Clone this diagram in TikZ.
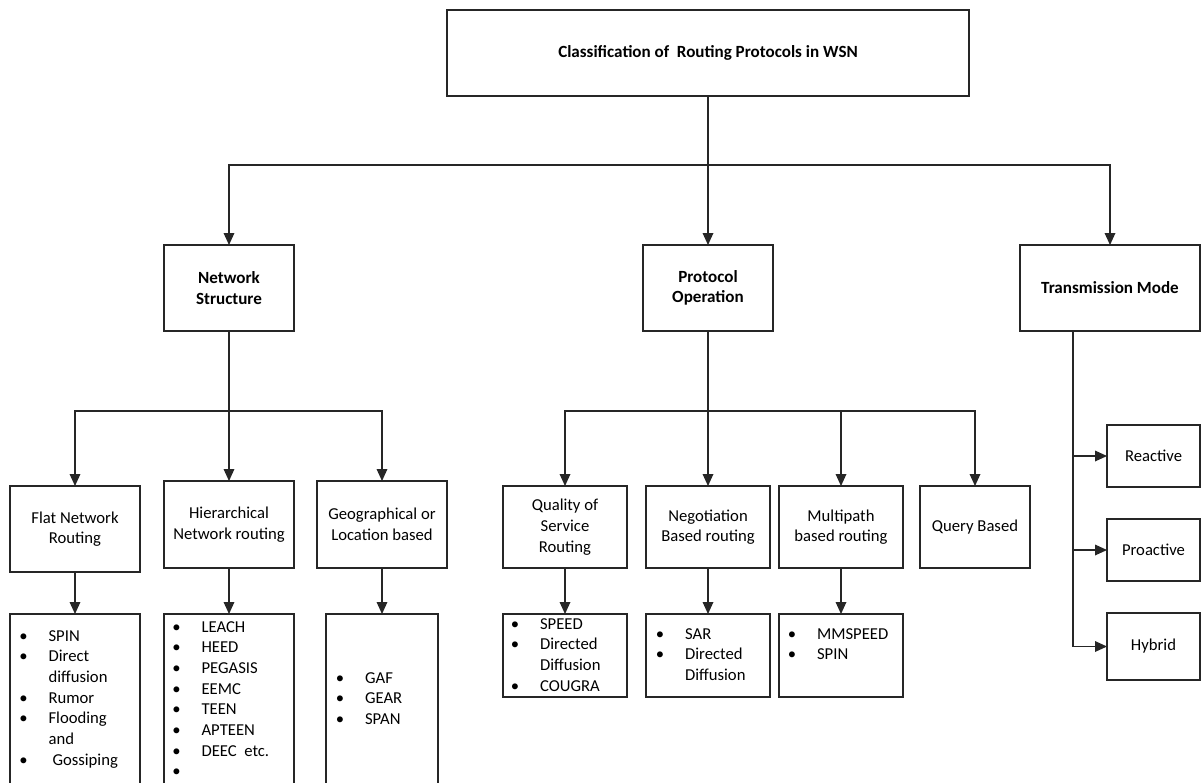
\documentclass[tikz,border=0pt]{standalone}
\usepackage{fontspec}
\setmainfont{Carlito}
\usetikzlibrary{positioning,arrows.meta}

\begin{document}
\begin{tikzpicture}[
    x=0.75pt, y=-0.75pt,
    font=\fontsize{12.5}{15.5}\selectfont,
    box/.style 2 args={
        draw=black!85,
        line width=0.9pt,
        minimum width=#1*0.75pt,
        minimum height=#2*0.75pt,
        inner sep=0pt,
        outer sep=0pt,
        align=center
    },
    head/.style={font=\fontsize{12.8}{15.5}\selectfont\bfseries},
    items/.style={anchor=base west, inner sep=0pt},
    link/.style={draw=black!85, line width=0.9pt},
    arr/.style={link, -{Triangle[length=9pt,width=8pt]}}
]
\useasboundingbox (0,0) rectangle (1203,782);

% Title
\node[box={522}{86}, head] (title) at (708,53) {Classification of \ Routing Protocols in WSN};

% First level
\node[box={130}{86}, head] (ns) at (229,288) {Network\\Structure};
\node[box={130}{86}, head] (po) at (708,288) {Protocol\\Operation};
\node[box={180}{86}, head] (tm) at (1110,288) {Transmission Mode};

% Network structure branch
\node[box={130}{86}] (flat) at (75,529) {Flat Network\\Routing};
\node[box={130}{87}] (hier) at (229,524.5) {Hierarchical\\Network routing};
\node[box={130}{87}] (geo) at (382,524.5) {Geographical or\\Location based};

% Protocol operation branch
\node[box={124}{82}] (qos) at (565,527) {Quality of\\Service\\Routing};
\node[box={124}{82}] (neg) at (708,527) {Negotiation\\Based routing};
\node[box={124}{82}] (multi) at (841,527) {Multipath\\based routing};
\node[box={110}{82}] (query) at (975,527) {Query Based};

% Transmission mode branch
\node[box={93}{62}] (react) at (1153.5,456) {Reactive};
\node[box={93}{62}] (proact) at (1153.5,550) {Proactive};
\node[box={93}{67}] (hybrid) at (1153.5,646.5) {Hybrid};

% List boxes
\node[box={130}{186}] (flatlist) at (75,707) {};
\node[box={130}{186}] (hierlist) at (229,707) {};
\node[box={112}{186}] (geolist) at (382,707) {};
\node[box={124}{83}] (qoslist) at (565,655.5) {};
\node[box={124}{83}] (neglist) at (708,655.5) {};
\node[box={124}{83}] (multilist) at (841,655.5) {};

% List items
\node[items] (flattxt) at (19,641) {\begin{tabular}[t]{@{}p{22pt}@{}l@{}}
\textbullet & SPIN\\ \textbullet & Direct\\ & diffusion\\ \textbullet & Rumor\\
\textbullet & Flooding\\ & and\\ \textbullet & \hspace*{3pt}Gossiping
\end{tabular}};
\node[items] (hiertxt) at (172,632) {\begin{tabular}[t]{@{}p{22pt}@{}l@{}}
\textbullet & LEACH\\ \textbullet & HEED\\ \textbullet & PEGASIS\\ \textbullet & EEMC\\
\textbullet & TEEN\\ \textbullet & APTEEN\\ \textbullet & DEEC \ etc.\\ \textbullet &
\end{tabular}};
\node[items] (geotxt) at (335.5,683) {\begin{tabular}[t]{@{}p{22pt}@{}l@{}}
\textbullet & GAF\\ \textbullet & GEAR\\ \textbullet & SPAN
\end{tabular}};
\node[items] (qostxt) at (510.5,629) {\begin{tabular}[t]{@{}p{22pt}@{}l@{}}
\textbullet & SPEED\\ \textbullet & Directed\\ & Diffusion\\ \textbullet & COUGRA
\end{tabular}};
\node[items] (negtxt) at (655.5,639) {\begin{tabular}[t]{@{}p{22pt}@{}l@{}}
\textbullet & SAR\\ \textbullet & Directed\\ & Diffusion
\end{tabular}};
\node[items] (multitxt) at (787.5,639) {\begin{tabular}[t]{@{}p{22pt}@{}l@{}}
\textbullet & MMSPEED\\ \textbullet & SPIN
\end{tabular}};

% Connectors from title
\coordinate (bus1) at (708,165);
\draw[link] (title.south) -- (bus1);
\draw[arr] (bus1) -| (ns.north);
\draw[arr] (bus1) -- (po.north);
\draw[arr] (bus1) -| (tm.north);

% Connectors under network structure
\coordinate (bus2) at (229,411);
\draw[link] (ns.south) -- (bus2);
\draw[arr] (bus2) -| (flat.north);
\draw[arr] (bus2) -- (hier.north);
\draw[arr] (bus2) -| (geo.north);

% Connectors under protocol operation
\coordinate (bus3) at (708,411);
\draw[link] (po.south) -- (bus3);
\draw[arr] (bus3) -| (qos.north);
\draw[arr] (bus3) -- (neg.north);
\draw[arr] (bus3) -| (multi.north);
\draw[arr] (bus3) -| (query.north);

% Connectors under transmission mode
\coordinate (tmtop) at (1073,331);
\draw[arr] (tmtop) |- (hybrid.west);
\draw[arr] (react.west -| tmtop) -- (react.west);
\draw[arr] (proact.west -| tmtop) -- (proact.west);

% Boxes to lists
\draw[arr] (flat.south) -- (flatlist.north);
\draw[arr] (hier.south) -- (hierlist.north);
\draw[arr] (geo.south) -- (geolist.north);
\draw[arr] (qos.south) -- (qoslist.north);
\draw[arr] (neg.south) -- (neglist.north);
\draw[arr] (multi.south) -- (multilist.north);

\end{tikzpicture}
\end{document}
